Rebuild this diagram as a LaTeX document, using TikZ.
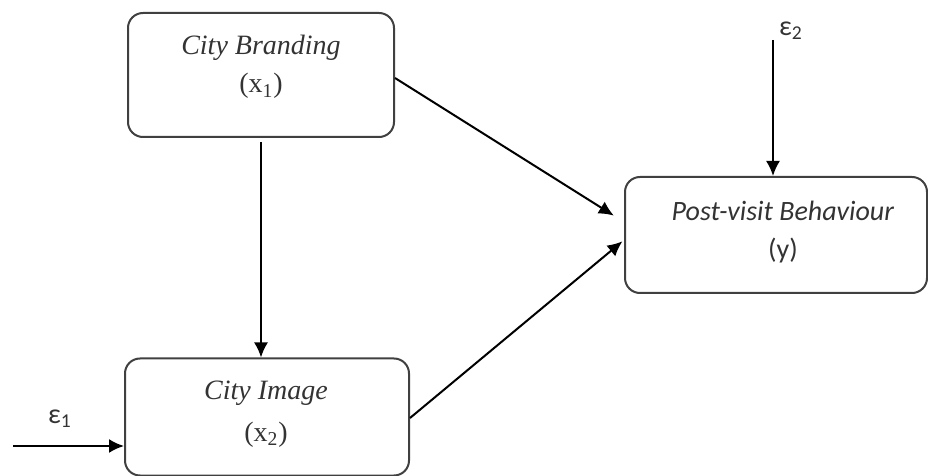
\documentclass[tikz,border=0pt]{standalone}
\usepackage{fontspec}
\setmainfont{Liberation Serif}
\newfontfamily\calfont{Carlito}
\usetikzlibrary{arrows.meta,positioning}

\begin{document}
\begin{tikzpicture}[x=0.5pt,y=-0.5pt,>={Latex[length=7.5pt,width=7pt]},every node/.append style={align=center},
    blk/.style={draw=black!75, line width=1pt, rounded corners=7.5pt, inner sep=0pt},
    ttl/.style={font=\fontsize{14}{19}\selectfont, text=black!80},
    ttlc/.style={font=\calfont\fontsize{14}{19}\selectfont, text=black!80},
    lnk/.style={->, line width=1pt}]
    \useasboundingbox (0,0) rectangle (928,476);

    \node [blk, minimum width=133pt, minimum height=62pt] (CB) at (261,75) {};
    \node [blk, minimum width=142pt, minimum height=58.5pt] (CI) at (267,417) {};
    \node [blk, minimum width=151pt, minimum height=58pt] (PV) at (776,235) {};

    \node [ttl] (CBt) at (261,67) {\textit{City Branding} \\ (x\textsubscript{1})};
    \node [ttl] (CIt) at (266,414) {\textit{City Image} \\[2pt] (x\textsubscript{2})};
    \node [ttlc] (PVt) at (783,232) {\textit{Post-visit Behaviour} \\ (y)};

    \coordinate (e2top) at (773,40);
    \coordinate (e1start) at (13,446);
    \node [ttlc] (e2) at (791,31) {ε\textsubscript{2}};
    \node [ttlc] (e1) at (60,419) {ε\textsubscript{1}};

   % links
    \draw[lnk, shorten <=2pt] (CB) -- (CB.south |- CI.north);
    \draw[lnk, shorten >=6pt] ([yshift=-1.5pt]CB.east) -- ([yshift=6.5pt]PV.west);
    \draw[lnk, shorten >=1pt] ([yshift=-0.5pt]CI.east) -- ([yshift=-2.5pt]PV.west);
    \draw[lnk] (e2top) -- (e2top |- PV.north);
    \draw[lnk] (e1start) -- (e1start -| CI.west);
\end{tikzpicture}
\end{document}
